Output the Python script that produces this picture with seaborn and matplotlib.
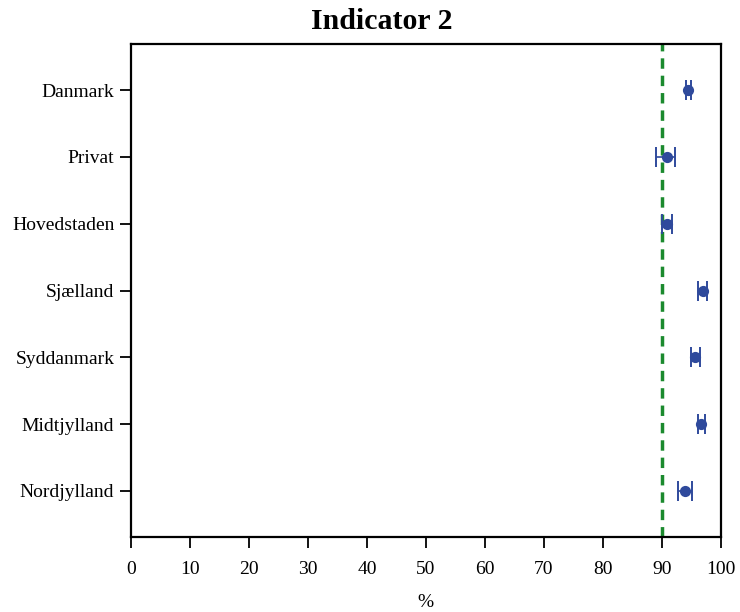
import matplotlib
matplotlib.use("Agg")
import matplotlib.pyplot as plt
import seaborn as sns
import pandas as pd

regions = ["Danmark", "Privat", "Hovedstaden", "Sjælland", "Syddanmark", "Midtjylland", "Nordjylland"]
estimate = [94.5, 90.9, 90.8, 97.0, 95.6, 96.7, 94.0]
lower = [94.1, 89.1, 90.1, 96.2, 95.0, 96.1, 92.8]
upper = [94.9, 92.3, 91.7, 97.7, 96.5, 97.4, 95.1]
target = 90
xticks = [0, 10, 20, 30, 40, 50, 60, 70, 80, 90, 100]

df = pd.DataFrame({"region": regions, "estimate": estimate, "lower": lower, "upper": upper})

sns.set_style("ticks")
plt.rcParams["font.family"] = ["Liberation Serif", "DejaVu Serif"]
plt.rcParams["text.color"] = "black"
plt.rcParams["xtick.color"] = "black"
plt.rcParams["ytick.color"] = "black"
plt.rcParams["axes.labelcolor"] = "black"

fig = plt.figure(figsize=(7.4, 6.12), dpi=100)
ax = fig.add_axes([0.177, 0.1225, 0.797, 0.8055])

blue = "#2f4a9c"
ypos = list(range(len(regions)))

ax.axvline(target, color="#1b8a2e", linestyle=(0, (3, 2)), linewidth=2.5, zorder=1)
ax.errorbar(df["estimate"], ypos,
            xerr=[df["estimate"] - df["lower"], df["upper"] - df["estimate"]],
            fmt="none", ecolor=blue, elinewidth=1.2, capsize=7, capthick=1.4, zorder=2)
sns.scatterplot(data=df, x="estimate", y=ypos, color=blue, s=65, edgecolor=blue,
                linewidth=0, ax=ax, zorder=3, legend=False)

ax.set_xlim(0, 100)
ax.set_ylim(len(regions) - 1 + 0.69, -0.69)
ax.set_xticks(xticks)
ax.set_xticklabels([str(t) for t in xticks], fontsize=14)
ax.set_yticks(ypos)
ax.set_yticklabels(regions, fontsize=14)
ax.tick_params(axis="both", direction="out", length=8, width=1.3, color="black")
ax.tick_params(axis="x", pad=9)
ax.tick_params(axis="y", pad=4)
ax.set_xlabel("%", fontsize=14, labelpad=12)
ax.set_ylabel("")
fig.suptitle("Indicator 2", x=0.516, y=0.987, va="top", fontsize=21.5, fontweight="bold")
for sp in ax.spines.values():
    sp.set_visible(True)
    sp.set_linewidth(1.6)
    sp.set_color("black")

fig.savefig("out.png", dpi=100)
